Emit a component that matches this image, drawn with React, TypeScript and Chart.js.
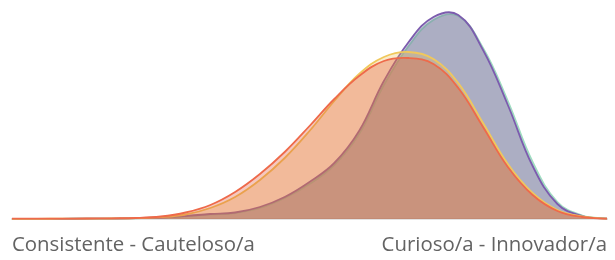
import React, { useEffect, useRef } from "react";
import { Chart, registerables } from "chart.js";

Chart.register(...registerables);

// 25 evenly spaced positions along the scale; only the two ends carry a label
const leftLabel = "Consistente - Cauteloso/a";
const rightLabel = "Curioso/a - Innovador/a";
const positions = Array.from({ length: 25 }, (_, i) =>
  i === 0 ? leftLabel : i === 24 ? rightLabel : ""
);

const redValues = [0.3, 0.3, 0.4, 0.5, 0.7, 1.0, 2.5, 6.5, 14, 27, 45, 67, 93, 120, 143, 158, 161, 155, 131, 92, 52, 24, 8, 2, 0.3];
const yellowValues = [0.2, 0.2, 0.3, 0.4, 0.5, 0.8, 1.8, 4.5, 11, 22, 39, 61, 88, 118, 145, 162, 167, 160, 136, 96, 55, 26, 9, 2.5, 0.3];
const purpleValues = [0.2, 0.2, 0.2, 0.3, 0.4, 0.8, 1.5, 3, 5, 6.5, 12, 22, 37, 56, 88, 138, 177, 202, 204, 169, 114, 53, 15, 3, 0.3];
const greenValues = [0.2, 0.2, 0.2, 0.3, 0.4, 0.7, 1.3, 2.7, 4.6, 6, 11, 21, 35, 54, 85, 134, 173, 199, 203, 171, 118, 57, 17, 3.5, 0.3];

export default function App() {
  const ref = useRef<HTMLCanvasElement | null>(null);

  useEffect(() => {
    if (!ref.current) return;
    const mk = (label: string, data: number[], line: string, fill: string) => ({
      label,
      data,
      borderColor: line,
      backgroundColor: fill,
      borderWidth: 1.8,
      fill: "origin",
      pointRadius: 0,
      pointHoverRadius: 0,
      tension: 0.4,
      clip: false as any,
    });
    const chart = new Chart(ref.current, {
      type: "line",
      data: {
        labels: positions,
        datasets: [
          mk("Rojo", redValues, "#ee6a4a", "rgba(223,73,43,0.3)"),
          mk("Amarillo", yellowValues, "#f0c85c", "rgba(240,190,80,0.3)"),
          mk("Morado", purpleValues, "#7c5cae", "rgba(90,72,135,0.3)"),
          mk("Verde", greenValues, "#9fdcc0", "rgba(100,130,140,0.3)"),
        ],
      },
      options: {
        animation: false,
        responsive: true,
        maintainAspectRatio: false,
        layout: { padding: { left: 12, right: 8, top: 0, bottom: 0 } },
        plugins: { legend: { display: false }, tooltip: { enabled: false } },
        scales: {
          y: { display: false, min: 0, max: 219 },
          x: {
            afterFit: (scale: any) => {
              scale.height = 41;
            },
            grid: {
              display: true,
              drawOnChartArea: false,
              drawTicks: true,
              tickLength: 12,
              color: "rgba(0,0,0,0)",
            },
            border: { display: true, color: "#e2e2e2", width: 2 },
            ticks: {
              autoSkip: false,
              maxRotation: 0,
              minRotation: 0,
              align: "inner",
              padding: 2,
              color: "#636363",
              font: { family: "'Open Sans'", size: 20.4 },
            },
          },
        },
      },
    });
    return () => chart.destroy();
  }, []);

  return (
    <div style={{ position: "fixed", left: 0, top: 0, width: 615, height: 260, background: "#fff" }}>
      <canvas ref={ref} />
    </div>
  );
}
